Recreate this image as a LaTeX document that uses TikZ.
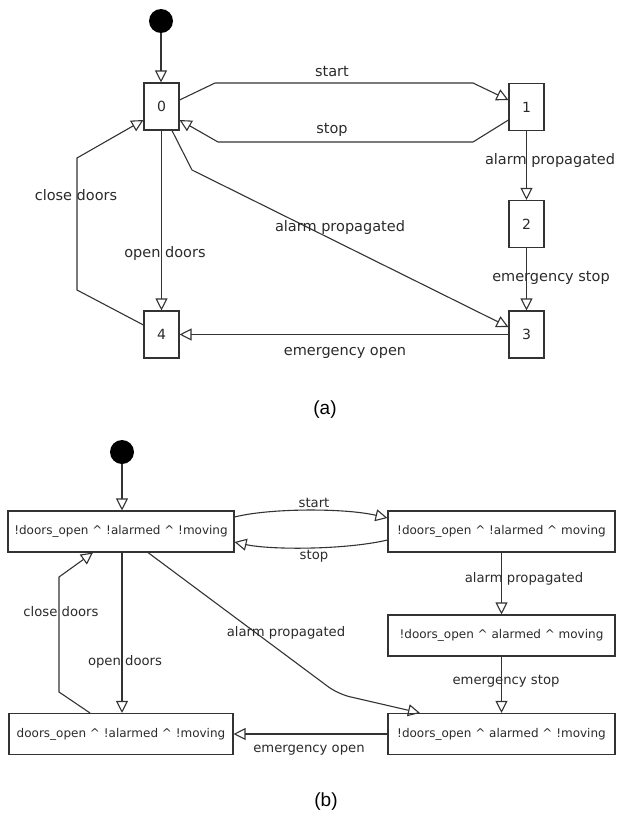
\documentclass[tikz,border=0pt]{standalone}
\usepackage{fontspec}
\setmainfont{DejaVu Sans}
\newfontfamily\capfont{Liberation Sans}
\usetikzlibrary{arrows.meta, positioning}
\definecolor{cline}{HTML}{333333}
\definecolor{ctext}{HTML}{2A2A2A}

\begin{document}
\begin{tikzpicture}[
  x=1pt, y=-1pt,
  initdot/.style={circle, fill=black, minimum size=24pt, inner sep=0pt},
  numbox/.style={draw=cline, line width=1.1pt, text=ctext, inner sep=0pt,
                 minimum width=35pt, minimum height=47pt, font=\fontsize{14}{16}\selectfont},
  statebox/.style={draw=cline, line width=1.1pt, text=ctext, inner sep=0pt,
                   minimum height=41pt, font=\fontsize{12}{14}\selectfont},
  lbla/.style={text=ctext, inner sep=0pt, font=\fontsize{14.5}{16}\selectfont},
  lblb/.style={text=ctext, inner sep=0pt, font=\fontsize{13.2}{15}\selectfont},
  flow/.style={-{Triangle[open, length=12pt, width=12pt]}, line width=1.1pt, draw=cline},
  tag/.style={text=black, inner sep=0pt, font=\capfont\fontsize{19}{22}\selectfont}
]
\useasboundingbox (0,0) rectangle (617,814);

% (a) states
\node[initdot] (ia) at (161,21) {};
\node[numbox] (s0) at (161.5,106.5) {0};
\node[numbox] (s1) at (526.5,107) {1};
\node[numbox] (s2) at (526.5,224) {2};
\node[numbox] (s3) at (526.5,334.5) {3};
\node[numbox] (s4) at (161.5,334.5) {4};

% (a) transitions
\draw[flow] (ia) -- (ia |- s0.north);
\draw[flow] ([yshift=6.5pt]s0.east) -- (215,83) -- (473,83) -- ([yshift=7pt]s1.west);
\draw[flow] ([yshift=-13pt]s1.west) -- (473,142) -- (218,142) -- ([yshift=-13.5pt]s0.east);
\draw[flow] (s1) -- (s2);
\draw[flow] (s2) -- (s3);
\draw[flow] ([xshift=10.5pt]s0.south) -- (192,170) -- ([yshift=7.5pt]s3.west);
\draw[flow] (s0) -- (s4);
\draw[flow] ([yshift=9.5pt]s4.west) -- (77,290) -- (77,158) -- ([yshift=-13.5pt]s0.west);
\draw[flow] (s3) -- (s4);

\node[lbla] (la1) at (332,72) {start};
\node[lbla] (la2) at (332,130) {stop};
\node[lbla] (la3) at (550,160) {alarm propagated};
\node[lbla] (la4) at (551,278) {emergency stop};
\node[lbla] (la5) at (340,227) {alarm propagated};
\node[lbla] (la6) at (165,253) {open doors};
\node[lbla] (la7) at (76,195) {close doors};
\node[lbla] (la8) at (345,353) {emergency open};
\node[tag] (ta) at (325,410) {(a)};

% (b) states
\node[initdot] (ib) at (122,452) {};
\node[statebox, minimum width=226pt] (pa) at (121,531.5) {!doors\_open \textasciicircum{} !alarmed \textasciicircum{} !moving};
\node[statebox, minimum width=227pt] (pb) at (501.5,531.5) {!doors\_open \textasciicircum{} !alarmed \textasciicircum{} moving};
\node[statebox, minimum width=227pt] (pc) at (501.5,635.5) {!doors\_open \textasciicircum{} alarmed \textasciicircum{} moving};
\node[statebox, minimum width=227pt] (pd) at (501.5,734) {!doors\_open \textasciicircum{} alarmed \textasciicircum{} !moving};
\node[statebox, minimum width=224pt] (pe) at (121,734) {doors\_open \textasciicircum{} !alarmed \textasciicircum{} !moving};

% (b) transitions
\draw[flow] (ib) -- (ib |- pa.north);
\draw[flow] ([yshift=14.5pt]pa.east) .. controls (270,508) and (345,508) .. ([yshift=13.5pt]pb.west);
\draw[flow] ([yshift=-8.5pt]pb.west) .. controls (345,550) and (270,550) .. ([yshift=-10.5pt]pa.east);
\draw[flow] (pb) -- (pc);
\draw[flow] (pc) -- (pd);
\draw[flow, rounded corners=12pt] ([xshift=27pt]pa.south) -- (338,694) -- ([xshift=-81.5pt]pd.north);
\draw[flow] (pa.south -| ib) -- (pe.north -| ib);
\draw[flow] ([xshift=-31pt]pe.north) -- (59,692) -- (59,577) -- ([xshift=-28pt]pa.south);
\draw[flow] (pd) -- (pe);

\node[lblb] (lb1) at (314,503) {start};
\node[lblb] (lb2) at (314,556) {stop};
\node[lblb] (lb3) at (524,579) {alarm propagated};
\node[lblb] (lb4) at (506,681) {emergency stop};
\node[lblb] (lb5) at (286,633) {alarm propagated};
\node[lblb] (lb6) at (125,662) {open doors};
\node[lblb] (lb7) at (61,612) {close doors};
\node[lblb] (lb8) at (309,750) {emergency open};
\node[tag] (tb) at (326,802) {(b)};
\end{tikzpicture}
\end{document}
